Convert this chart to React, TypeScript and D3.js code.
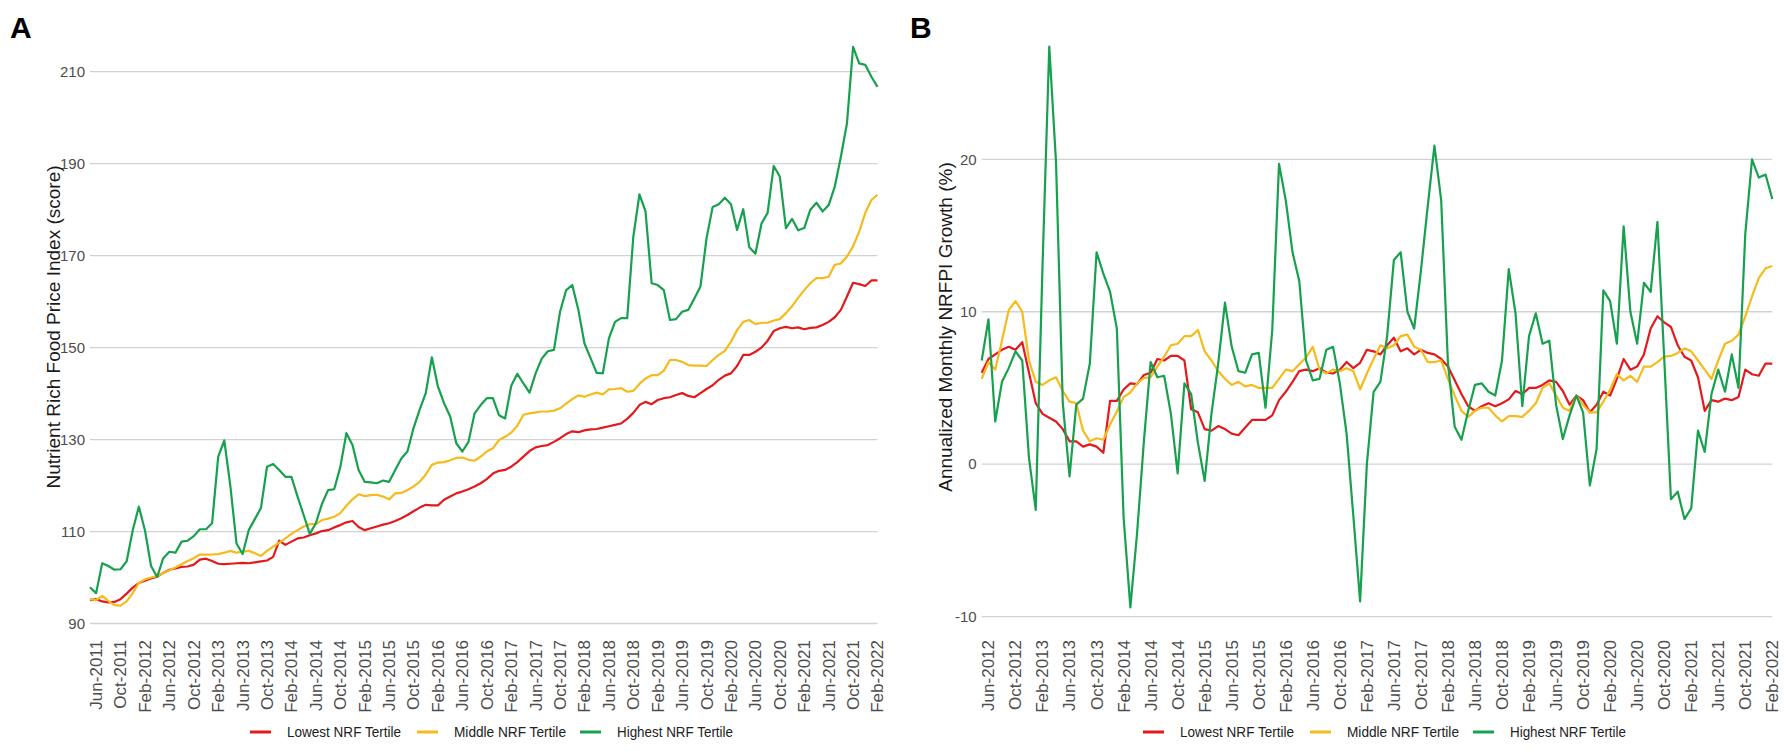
import { useEffect, useRef } from 'react';
import * as d3 from 'd3';

// Panel A: monthly index, May-2011 .. Feb-2022
const lowestA = [
  95.1, 95.3, 94.8, 94.6, 94.7, 95.3, 96.5, 97.8, 98.8, 99.3,
  99.8, 100.2, 101, 101.7, 102, 102.3, 102.4, 102.8, 103.9, 104.1,
  103.6, 103, 102.9, 103, 103.1, 103.2, 103.1, 103.3, 103.5, 103.7,
  104.5, 108, 107.1, 107.8, 108.5, 108.7, 109.2, 109.6, 110.1, 110.3,
  110.9, 111.4, 112, 112.3, 111, 110.3, 110.7, 111.1, 111.5, 111.8,
  112.3, 112.9, 113.6, 114.4, 115.2, 115.8, 115.7, 115.7, 116.9, 117.6,
  118.3, 118.7, 119.2, 119.8, 120.5, 121.4, 122.6, 123.2, 123.4, 124.1,
  125.1, 126.3, 127.5, 128.3, 128.6, 128.8, 129.5, 130.3, 131.2, 131.8,
  131.6, 132, 132.2, 132.3, 132.6, 132.9, 133.2, 133.5, 134.5, 135.8,
  137.5, 138.2, 137.7, 138.6, 139, 139.2, 139.7, 140.1, 139.5, 139.2,
  140.1, 141, 141.8, 143, 143.9, 144.4, 146, 148.4, 148.4, 149.1,
  150, 151.5, 153.6, 154.2, 154.5, 154.2, 154.4, 154, 154.3, 154.4,
  154.9, 155.6, 156.6, 158.2, 161.1, 164.1, 163.8, 163.4, 164.6, 164.6,
];
const middleA = [
  95.3, 95.1, 96, 94.9, 94, 93.9, 94.8, 96.6, 98.8, 99.6,
  100, 100.3, 101, 101.6, 102.2, 102.9, 103.6, 104.2, 105, 105,
  105, 105.1, 105.4, 105.8, 105.4, 105.6, 105.8, 105.3, 104.7, 105.8,
  106.7, 107.6, 108.5, 109.5, 110.3, 111.1, 111.6, 111.6, 112.5, 112.8,
  113.2, 114, 115.6, 117, 118.1, 117.7, 117.9, 118, 117.6, 117,
  118.3, 118.4, 119, 119.8, 120.8, 122.4, 124.5, 125, 125.1, 125.5,
  126, 126.1, 125.6, 125.4, 126.3, 127.4, 128.1, 129.9, 130.6, 131.5,
  133, 135.4, 135.7, 135.9, 136.1, 136.1, 136.3, 136.8, 137.8, 138.8,
  139.6, 139.3, 139.8, 140.2, 139.8, 140.9, 141, 141.2, 140.4, 140.6,
  142.1, 143.3, 144, 144, 145, 147.3, 147.3, 146.9, 146.2, 146.1,
  146.1, 146, 147.3, 148.4, 149.3, 151.3, 153.8, 155.6, 156, 155.1,
  155.4, 155.4, 155.9, 156.2, 157.5, 159, 160.8, 162.5, 164, 165.1,
  165.1, 165.4, 168, 168.3, 169.8, 172, 175.2, 179.3, 182.1, 183.2,
];
const highestA = [
  97.9, 96.6, 103.1, 102.5, 101.7, 101.8, 103.5, 110.3, 115.4, 110.3,
  102.5, 100.1, 104.2, 105.6, 105.4, 107.8, 108, 109, 110.5, 110.5,
  111.8, 126.3, 129.8, 119.8, 107.4, 105.1, 110.3, 112.7, 115.1, 124.1,
  124.7, 123.4, 121.9, 121.9, 117.6, 113.6, 109.5, 111.8, 116, 119,
  119.2, 124, 131.4, 128.8, 123.4, 120.8, 120.7, 120.5, 121.1, 120.8,
  123.4, 125.9, 127.4, 132.5, 136.5, 140.1, 147.9, 141.5, 137.9, 135,
  129.2, 127.4, 129.5, 135.7, 137.5, 139, 139, 135.3, 134.6, 141.7,
  144.3, 142.2, 140.2, 144.4, 147.6, 149.2, 149.5, 157.8, 162.5, 163.6,
  158.2, 150.9, 147.7, 144.5, 144.4, 152, 155.6, 156.4, 156.4, 174.1,
  183.3, 179.6, 164, 163.6, 162.5, 156, 156.2, 157.8, 158.2, 160.7,
  163.3, 173.8, 180.6, 181.2, 182.6, 181.2, 175.6, 180.1, 171.8, 170.4,
  177, 179.3, 189.5, 187.2, 176, 178, 175.5, 176, 180, 181.5,
  179.6, 181, 185, 191.5, 198.8, 215.4, 211.8, 211.5, 208.9, 206.7,
];

// Panel B: annualized monthly growth (%), May-2012 .. Feb-2022
const lowestB = [
  6.0, 6.9, 7.2, 7.5, 7.7, 7.5, 8.0, 6.0, 4.0, 3.3,
  3.05, 2.8, 2.3, 1.5, 1.5, 1.15, 1.3, 1.15, 0.75, 4.15,
  4.15, 4.9, 5.3, 5.25, 5.85, 6.0, 6.9, 6.8, 7.1, 7.1,
  6.8, 3.6, 3.4, 2.3, 2.2, 2.5, 2.3, 2.0, 1.9, 2.4,
  2.9, 2.9, 2.9, 3.2, 4.2, 4.75, 5.4, 6.1, 6.2, 6.1,
  6.3, 6.0, 5.95, 6.2, 6.7, 6.3, 6.65, 7.5, 7.4, 7.2,
  7.8, 8.3, 7.4, 7.6, 7.2, 7.5, 7.3, 7.2, 6.9, 6.4,
  5.5, 4.6, 3.8, 3.5, 3.8, 4.0, 3.8, 4.0, 4.25, 4.8,
  4.6, 5.0, 5.0, 5.2, 5.5, 5.4, 4.8, 3.9, 4.5, 4.2,
  3.4, 3.9, 4.75, 4.5, 5.6, 6.9, 6.2, 6.4, 7.2, 8.9,
  9.7, 9.3, 9.0, 7.8, 7.05, 6.8, 5.7, 3.5, 4.2, 4.1,
  4.3, 4.2, 4.4, 6.2, 5.9, 5.8, 6.6, 6.6,
];
const middleB = [
  5.6, 6.7, 6.2, 8.1, 10.1, 10.7, 10.0, 6.8, 5.4, 5.2,
  5.5, 5.7, 4.8, 4.1, 4.0, 2.2, 1.5, 1.7, 1.6, 2.6,
  3.45, 4.4, 4.7, 5.3, 5.65, 5.7, 6.4, 7.05, 7.8, 7.9,
  8.4, 8.4, 8.8, 7.4, 6.8, 6.1, 5.6, 5.2, 5.4, 5.1,
  5.2, 5.0, 5.0, 5.0, 5.6, 6.2, 6.1, 6.55, 7.0, 7.7,
  6.2, 5.95, 6.2, 6.1, 6.3, 6.1, 4.9, 5.95, 6.9, 7.8,
  7.6, 7.8, 8.4, 8.5, 7.7, 7.5, 6.7, 6.7, 6.8, 5.6,
  4.5, 3.5, 3.1, 3.5, 3.7, 3.7, 3.2, 2.8, 3.15, 3.15,
  3.1, 3.5, 4.0, 5.0, 5.3, 4.5, 3.7, 3.5, 4.5, 3.9,
  3.4, 3.4, 4.1, 4.9, 5.9, 5.5, 5.8, 5.4, 6.4, 6.4,
  6.7, 7.05, 7.1, 7.3, 7.6, 7.4, 6.8, 6.2, 5.6, 6.8,
  7.9, 8.1, 8.5, 9.7, 11.0, 12.2, 12.85, 13.0,
];
const highestB = [
  6.8, 9.5, 2.8, 5.4, 6.3, 7.4, 6.8, 0.4, -3.0, 13,
  27.4, 19.8, 4, -0.8, 3.9, 4.3, 6.6, 13.9, 12.5, 11.3,
  8.9, -3.5, -9.4, -4.5, 1.5, 6.7, 5.7, 5.8, 3.3, -0.6,
  5.3, 4.6, 1.4, -1.1, 3.3, 6.6, 10.6, 7.7, 6.1, 6.0,
  7.2, 7.3, 3.7, 8.8, 19.7, 17.3, 13.9, 12, 6.8, 5.5,
  5.6, 7.5, 7.7, 5.3, 2.0, -3.4, -9.0, 0.0, 4.75, 5.4,
  8.4, 13.4, 13.9, 10.0, 8.9, 12.7, 16.9, 20.9, 17.3, 6.6,
  2.45, 1.6, 3.5, 5.2, 5.3, 4.75, 4.5, 6.8, 12.8, 9.9,
  3.8, 8.4, 9.9, 7.9, 8.1, 3.9, 1.65, 3.2, 4.5, 3.4,
  -1.4, 1.0, 11.4, 10.7, 7.9, 15.6, 10, 7.9, 11.9, 11.3,
  15.9, 7, -2.3, -1.8, -3.6, -2.9, 2.2, 0.8, 4.6, 6.2,
  4.75, 7.2, 5.0, 15.1, 20.0, 18.8, 19.0, 17.4,
];

const tickLabelsA = [
  'Jun-2011', 'Oct-2011', 'Feb-2012', 'Jun-2012', 'Oct-2012', 'Feb-2013', 'Jun-2013',
  'Oct-2013', 'Feb-2014', 'Jun-2014', 'Oct-2014', 'Feb-2015', 'Jun-2015', 'Oct-2015',
  'Feb-2016', 'Jun-2016', 'Oct-2016', 'Feb-2017', 'Jun-2017', 'Oct-2017', 'Feb-2018',
  'Jun-2018', 'Oct-2018', 'Feb-2019', 'Jun-2019', 'Oct-2019', 'Feb-2020', 'Jun-2020',
  'Oct-2020', 'Feb-2021', 'Jun-2021', 'Oct-2021', 'Feb-2022',
];
const tickLabelsB = [
  'Jun-2012', 'Oct-2012', 'Feb-2013', 'Jun-2013', 'Oct-2013', 'Feb-2014', 'Jun-2014',
  'Oct-2014', 'Feb-2015', 'Jun-2015', 'Oct-2015', 'Feb-2016', 'Jun-2016', 'Oct-2016',
  'Feb-2017', 'Jun-2017', 'Oct-2017', 'Feb-2018', 'Jun-2018', 'Oct-2018', 'Feb-2019',
  'Jun-2019', 'Oct-2019', 'Feb-2020', 'Jun-2020', 'Oct-2020', 'Feb-2021', 'Jun-2021',
  'Oct-2021', 'Feb-2022',
];
const yTicksA = [90, 110, 130, 150, 170, 190, 210];
const yTicksB = [-10, 0, 10, 20];

const seriesNames = ['Lowest NRF Tertile', 'Middle NRF Tertile', 'Highest NRF Tertile'];
const seriesColors = ['#e3191c', '#f5bb1c', '#17a04e'];

const FONT = '"Liberation Sans", Arial, Helvetica, sans-serif';

const App = () => {
  const svgRef = useRef<SVGSVGElement | null>(null);

  useEffect(() => {
    const width = 1784;
    const height = 751;
    const svg = d3.select(svgRef.current);
    svg.selectAll('*').remove();
    svg.attr('width', width).attr('height', height);

    svg.append('rect').attr('width', width).attr('height', height).attr('fill', 'white');

    const drawPanel = (opts: {
      letter: string;
      letterX: number;
      series: number[][];
      xRange: [number, number];
      yDomain: [number, number];
      yRange: [number, number];
      yTicks: number[];
      tickLabels: string[];
      title: string;
      titleX: number;
      legendX: number;
    }) => {
      const n = opts.series[0].length;
      const x = d3.scaleLinear().domain([0, n - 1]).range(opts.xRange);
      const y = d3.scaleLinear().domain(opts.yDomain).range(opts.yRange);
      const g = svg.append('g');

      // horizontal grid
      g.selectAll('line.grid')
        .data(opts.yTicks)
        .enter()
        .append('line')
        .attr('x1', opts.xRange[0])
        .attr('x2', opts.xRange[1])
        .attr('y1', d => y(d))
        .attr('y2', d => y(d))
        .attr('stroke', '#d2d2d2')
        .attr('stroke-width', 1.3);

      // y tick labels
      g.selectAll('text.ytick')
        .data(opts.yTicks)
        .enter()
        .append('text')
        .attr('x', opts.xRange[0] - 5)
        .attr('y', d => y(d))
        .attr('dy', '0.35em')
        .attr('text-anchor', 'end')
        .style('font-family', FONT)
        .style('font-size', '15px')
        .style('fill', '#4d4d4d')
        .text(d => d);

      // x tick labels, every 4th month starting with the 2nd point
      opts.tickLabels.forEach((label, k) => {
        const idx = 1 + k * 4;
        g.append('text')
          .attr('transform', `translate(${x(idx)}, 640) rotate(-90)`)
          .attr('dy', '0.35em')
          .attr('text-anchor', 'end')
          .style('font-family', FONT)
          .style('font-size', '17px')
          .style('fill', '#4d4d4d')
          .text(label);
      });

      // lines
      const line = d3.line<number>()
        .x((_, i) => x(i))
        .y(d => y(d));

      opts.series.forEach((values, s) => {
        g.append('path')
          .datum(values)
          .attr('d', line)
          .attr('fill', 'none')
          .attr('stroke', seriesColors[s])
          .attr('stroke-width', 2.2)
          .attr('stroke-linejoin', 'round');
      });

      // y axis title
      g.append('text')
        .attr('transform', `translate(${opts.titleX}, 327) rotate(-90)`)
        .attr('dy', '0.35em')
        .attr('text-anchor', 'middle')
        .style('font-family', FONT)
        .style('font-size', '19px')
        .style('fill', '#1a1a1a')
        .text(opts.title);

      // panel letter
      svg.append('text')
        .attr('x', opts.letterX)
        .attr('y', 38)
        .style('font-family', FONT)
        .style('font-size', '30px')
        .style('font-weight', 'bold')
        .style('fill', '#000')
        .text(opts.letter);

      // legend
      const keyOffsets = [0, 167, 330];
      const textLengths = [114, 112, 116];
      const legend = g.append('g').attr('transform', `translate(${opts.legendX}, 732)`);
      seriesNames.forEach((name, s) => {
        const row = legend.append('g').attr('transform', `translate(${keyOffsets[s]}, 0)`);
        row.append('line')
          .attr('x1', 0)
          .attr('x2', 21)
          .attr('y1', 0)
          .attr('y2', 0)
          .attr('stroke', seriesColors[s])
          .attr('stroke-width', 3);
        row.append('text')
          .attr('x', 37)
          .attr('y', 0)
          .attr('dy', '0.35em')
          .attr('textLength', textLengths[s])
          .attr('lengthAdjust', 'spacingAndGlyphs')
          .style('font-family', FONT)
          .style('font-size', '15.5px')
          .style('fill', '#222')
          .text(name);
      });
    };

    drawPanel({
      letter: 'A',
      letterX: 10,
      series: [lowestA, middleA, highestA],
      xRange: [90, 877.5],
      yDomain: [90, 210],
      yRange: [623.5, 71.7],
      yTicks: yTicksA,
      tickLabels: tickLabelsA,
      title: 'Nutrient Rich Food Price Index (score)',
      titleX: 53,
      legendX: 250,
    });

    drawPanel({
      letter: 'B',
      letterX: 910,
      series: [lowestB, middleB, highestB],
      xRange: [981.7, 1772.3],
      yDomain: [-10, 20],
      yRange: [616.6, 159.3],
      yTicks: yTicksB,
      tickLabels: tickLabelsB,
      title: 'Annualized Monthly NRFPI Growth (%)',
      titleX: 945,
      legendX: 1143,
    });
  }, []);

  return (
    <svg ref={svgRef} style={{ position: 'absolute', left: 0, top: 0, display: 'block' }}></svg>
  );
};

export default App;
